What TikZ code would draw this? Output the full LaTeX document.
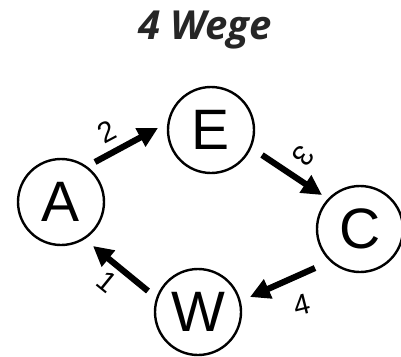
\documentclass[tikz,border=0pt]{standalone}
\usepackage{fontspec}
\setmainfont{Liberation Sans}
\newfontfamily\titlefont{Open Sans}
\usetikzlibrary{arrows.meta,calc}
\definecolor{titlegray}{HTML}{262626}
\tikzset{
  station/.style={circle, draw=black, line width=2.4pt, minimum size=86pt,
    inner sep=0pt, font=\fontsize{57}{60}\selectfont},
  arr/.style={line width=6.2pt, -{Triangle[length=20pt,width=20pt]}},
  steplabel/.style={font=\fontsize{29}{31}\selectfont, inner sep=0pt},
}
\begin{document}
\begin{tikzpicture}[x=1pt, y=-1pt]
  \useasboundingbox (0,0) rectangle (401,356);
  \node[font=\titlefont\bfseries\itshape\fontsize{40}{44}\selectfont,
        text=titlegray] (title) at (205,30) {4 Wege};

  % stations of the round trip
  \node[station] (A) at (61,202) {A};
  \node[station] (E) at (211,130) {E};
  \node[station] (C) at (360,229) {C};
  \node[station] (W) at (198,312) {W};

  % directed legs
  \draw[arr] ($(A.center)+(34,-40)$) -- ($(E.center)+(-53,-2)$);
  \draw[arr] ($(E.center)+(51,25)$) -- ($(C.center)+(-38,-34)$);
  \draw[arr] ($(C.center)+(-45,39)$) -- ($(W.center)+(52,-15)$);
  \draw[arr] ($(W.center)+(-50,-21)$) -- ($(A.center)+(32,44)$);

  % leg numbers
  \node[steplabel, rotate=28] (n2) at (107,132) {2};
  \node[steplabel, rotate=-128] (n3) at (303,156) {3};
  \node[steplabel, rotate=14] (n4) at (302,305) {4};
  \node[steplabel, rotate=-39] (n1) at (107,282) {1};
\end{tikzpicture}
\end{document}
